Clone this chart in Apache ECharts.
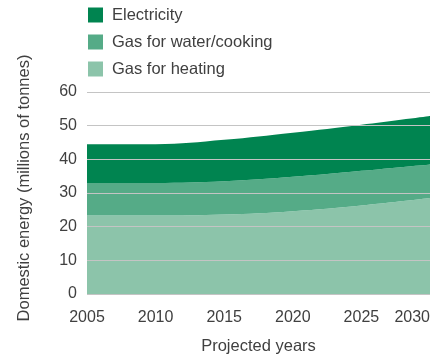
<!DOCTYPE html>
<html>
<head>
<meta charset="utf-8">
<script src="https://cdn.jsdelivr.net/npm/echarts@6/dist/echarts.min.js"></script>
<style>
  html, body { margin: 0; padding: 0; background: #fff; }
  #chart { width: 444px; height: 360px; }
</style>
</head>
<body>
<div id="chart"></div>
<script>
// Projected domestic energy use, millions of tonnes, stacked by use
const years = ['2005', '2010', '2015', '2020', '2025', '2030'];
const gasHeating = [23.3, 23.3, 23.6, 24.6, 26.3, 28.5];
const gasWaterCooking = [9.7, 9.7, 9.9, 10.2, 10.3, 10.0];
const electricity = [11.5, 11.5, 12.3, 13.1, 13.7, 14.4];
const yTicks = [0, 10, 20, 30, 40, 50, 60];

const names = ['Electricity', 'Gas for water/cooking', 'Gas for heating'];
const colors = {
  'Electricity': '#008450',
  'Gas for water/cooking': '#55ab87',
  'Gas for heating': '#8cc4aa'
};
const font = '"Liberation Sans", Arial, Helvetica, sans-serif';
const textColor = '#404040';

function areaSeries(name, values) {
  return {
    name: name,
    type: 'line',
    stack: 'total',
    smooth: 0.4,
    showSymbol: false,
    symbol: 'none',
    lineStyle: { width: 0 },
    itemStyle: { color: colors[name] },
    areaStyle: { color: colors[name], opacity: 1 },
    data: values
  };
}

const chart = echarts.init(document.getElementById('chart'), null, { renderer: 'canvas' });
chart.setOption({
  animation: false,
  textStyle: { fontFamily: font },
  legend: {
    orient: 'vertical',
    left: 83,
    top: 1.5,
    itemWidth: 15,
    itemHeight: 15,
    itemGap: 10,
    icon: 'rect',
    data: names,
    textStyle: { fontSize: 16.5, color: textColor, fontFamily: font, padding: [0, 0, 0, 4] },
    selectedMode: false
  },
  grid: { left: 87, right: 14, top: 92, bottom: 58 },
  xAxis: {
    type: 'category',
    boundaryGap: false,
    data: years,
    name: 'Projected years',
    nameLocation: 'middle',
    nameGap: 44,
    nameTextStyle: { fontSize: 16.5, color: textColor, fontFamily: font },
    axisLine: { show: false },
    axisTick: { show: false },
    splitLine: { show: false },
    axisLabel: {
      fontSize: 16,
      color: textColor,
      margin: 16,
      fontFamily: font,
      alignMaxLabel: 'right'
    }
  },
  yAxis: {
    type: 'value',
    min: yTicks[0],
    max: yTicks[yTicks.length - 1],
    interval: 10,
    z: 5,
    name: 'Domestic energy (millions of tonnes)',
    nameLocation: 'middle',
    nameGap: 54,
    nameTextStyle: { fontSize: 16.5, color: textColor, fontFamily: font, padding: [0, 0, 0, 10] },
    axisLine: { show: false },
    axisTick: { show: false },
    axisLabel: { fontSize: 16, color: textColor, margin: 10, fontFamily: font, padding: [0, 0, 8, 0] },
    splitLine: { show: true, lineStyle: { color: '#c4c4c4', width: 1 } }
  },
  series: [
    areaSeries('Gas for heating', gasHeating),
    areaSeries('Gas for water/cooking', gasWaterCooking),
    areaSeries('Electricity', electricity)
  ]
});
</script>
</body>
</html>
